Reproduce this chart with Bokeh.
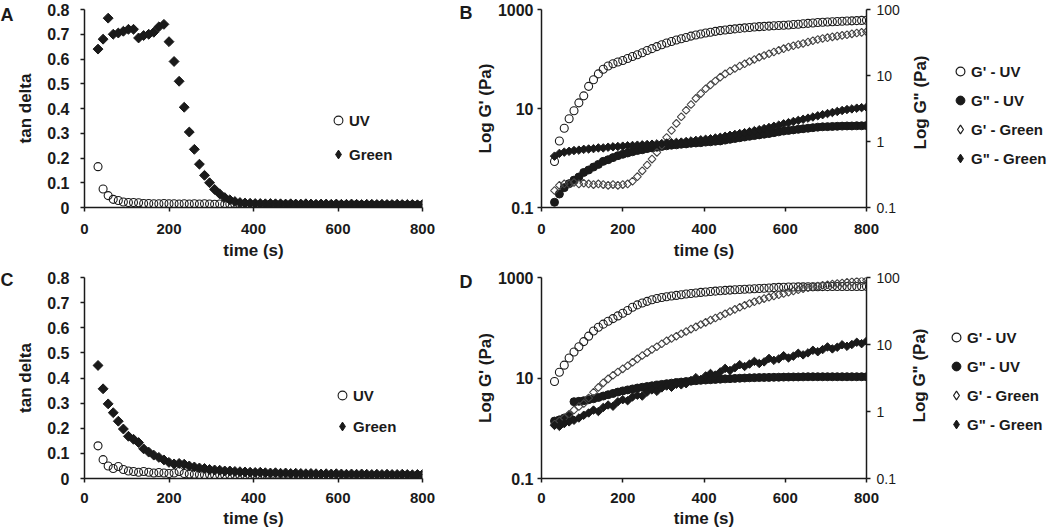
import math
from bokeh.plotting import figure
from bokeh.layouts import column, row
from bokeh.models import (Range1d, LogScale, LogAxis, FixedTicker, CustomJSTickFormatter,
                          Legend, LegendItem, Label)
from bokeh.embed import file_html
from bokeh.resources import INLINE

# ---------------- data ----------------
TIME = [32, 44, 56, 68, 80, 92, 104, 116, 128, 140,
        152, 164, 176, 188, 200, 212, 224, 236, 248, 260,
        272, 284, 296, 308, 320, 332, 344, 356, 368, 380,
        392, 404, 416, 428, 440, 452, 464, 476, 488, 500,
        512, 524, 536, 548, 560, 572, 584, 596, 608, 620,
        632, 644, 656, 668, 680, 692, 704, 716, 728, 740,
        752, 764, 776, 788, 800]

# Panel A: tan delta
A_UV = [0.165, 0.075, 0.048, 0.033, 0.028, 0.022, 0.020, 0.020, 0.019, 0.016,
        0.016, 0.015, 0.015, 0.016, 0.015, 0.015, 0.014, 0.015, 0.014, 0.015,
        0.014, 0.015, 0.014, 0.013, 0.014, 0.013, 0.013, 0.012, 0.013, 0.012,
        0.012, 0.012, 0.011, 0.012, 0.011, 0.012, 0.011, 0.011, 0.012, 0.011,
        0.010, 0.011, 0.011, 0.010, 0.011, 0.010, 0.010, 0.011, 0.010, 0.010,
        0.010, 0.011, 0.010, 0.009, 0.010, 0.010, 0.009, 0.010, 0.010, 0.009,
        0.010, 0.009, 0.010, 0.009, 0.010]
A_GREEN = [0.640, 0.680, 0.765, 0.700, 0.705, 0.712, 0.720, 0.720, 0.685, 0.695,
           0.700, 0.708, 0.730, 0.740, 0.670, 0.590, 0.510, 0.405, 0.305, 0.235,
           0.175, 0.130, 0.100, 0.073, 0.055, 0.040, 0.031, 0.024, 0.020, 0.018,
           0.017, 0.016, 0.016, 0.015, 0.016, 0.015, 0.015, 0.014, 0.015, 0.014,
           0.014, 0.015, 0.014, 0.013, 0.014, 0.014, 0.013, 0.014, 0.013, 0.013,
           0.014, 0.013, 0.012, 0.013, 0.013, 0.012, 0.013, 0.012, 0.012, 0.013,
           0.012, 0.012, 0.012, 0.011, 0.012]

# Panel C: tan delta
C_UV = [0.130, 0.075, 0.050, 0.040, 0.048, 0.036, 0.030, 0.028, 0.025, 0.028,
        0.025, 0.022, 0.024, 0.022, 0.020, 0.022, 0.028, 0.020, 0.018, 0.017,
        0.016, 0.015, 0.016, 0.014, 0.015, 0.014, 0.013, 0.014, 0.013, 0.012,
        0.013, 0.012, 0.012, 0.011, 0.012, 0.012, 0.011, 0.012, 0.011, 0.011,
        0.012, 0.011, 0.011, 0.012, 0.011, 0.011, 0.010, 0.011, 0.011, 0.010,
        0.011, 0.010, 0.011, 0.010, 0.010, 0.011, 0.010, 0.010, 0.011, 0.010,
        0.010, 0.011, 0.010, 0.010, 0.011]
C_GREEN = [0.450, 0.357, 0.297, 0.262, 0.228, 0.197, 0.168, 0.156, 0.143, 0.118,
           0.105, 0.093, 0.084, 0.074, 0.064, 0.058, 0.060, 0.057, 0.050, 0.046,
           0.042, 0.040, 0.036, 0.034, 0.033, 0.030, 0.030, 0.028, 0.027, 0.026,
           0.025, 0.024, 0.025, 0.023, 0.022, 0.023, 0.021, 0.022, 0.020, 0.021,
           0.020, 0.019, 0.020, 0.019, 0.018, 0.019, 0.018, 0.019, 0.018, 0.017,
           0.018, 0.017, 0.018, 0.017, 0.016, 0.017, 0.016, 0.017, 0.016, 0.016,
           0.017, 0.016, 0.015, 0.016, 0.016]

# Panel B: moduli (G' left axis, G" right axis)
B_GP_UV = [0.85, 2.2, 4.0, 6.2, 9.0, 13, 18, 28, 38, 50,
           62, 72, 80, 87, 93, 102, 112, 122, 134, 148,
           162, 178, 194, 210, 226, 242, 257, 272, 290, 305,
           320, 334, 348, 362, 375, 386, 396, 406, 415, 425,
           434, 442, 450, 456, 462, 468, 474, 480, 487, 496,
           505, 515, 525, 535, 545, 553, 560, 566, 572, 578,
           584, 590, 596, 602, 608]
B_GPP_UV = [0.12, 0.16, 0.20, 0.23, 0.26, 0.29, 0.34, 0.37, 0.41, 0.45,
            0.50, 0.53, 0.57, 0.61, 0.64, 0.67, 0.70, 0.73, 0.75, 0.78,
            0.80, 0.82, 0.84, 0.86, 0.88, 0.89, 0.91, 0.92, 0.94, 0.95,
            0.96, 0.98, 0.99, 1.01, 1.02, 1.05, 1.08, 1.11, 1.14, 1.17,
            1.20, 1.23, 1.26, 1.29, 1.32, 1.36, 1.40, 1.44, 1.47, 1.50,
            1.53, 1.56, 1.59, 1.62, 1.65, 1.67, 1.68, 1.69, 1.70, 1.71,
            1.72, 1.72, 1.73, 1.73, 1.74]
B_GP_GREEN = [0.22, 0.28, 0.30, 0.30, 0.32, 0.30, 0.31, 0.30, 0.29, 0.30,
              0.29, 0.28, 0.29, 0.28, 0.29, 0.30, 0.34, 0.42, 0.55, 0.72,
              0.95, 1.3, 1.8, 2.6, 3.6, 5.0, 6.8, 9.2, 12, 16,
              20, 25, 30, 36, 43, 50, 57, 64, 72, 80,
              89, 98, 108, 118, 128, 139, 150, 162, 175, 186,
              196, 206, 220, 234, 248, 260, 270, 280, 290, 300,
              310, 322, 334, 345, 356]
B_GPP_GREEN = [0.60, 0.66, 0.69, 0.71, 0.73, 0.74, 0.76, 0.77, 0.78, 0.80,
               0.80, 0.82, 0.83, 0.84, 0.85, 0.86, 0.87, 0.88, 0.89, 0.90,
               0.91, 0.92, 0.93, 0.95, 0.96, 0.97, 0.98, 1.00, 1.02, 1.04,
               1.06, 1.08, 1.10, 1.13, 1.16, 1.20, 1.24, 1.28, 1.32, 1.36,
               1.41, 1.46, 1.51, 1.57, 1.63, 1.70, 1.77, 1.85, 1.93, 2.01,
               2.09, 2.17, 2.26, 2.35, 2.45, 2.55, 2.65, 2.75, 2.85, 2.95,
               3.05, 3.12, 3.20, 3.26, 3.30]

# Panel D
D_GP_UV = [8.5, 13, 18, 25, 33, 42, 53, 68, 86, 102,
           118, 135, 152, 172, 195, 220, 255, 285, 310, 335,
           360, 382, 400, 415, 428, 440, 455, 468, 480, 492,
           505, 515, 525, 535, 545, 555, 562, 570, 578, 585,
           592, 598, 605, 612, 620, 628, 635, 640, 645, 648,
           650, 652, 654, 655, 656, 658, 658, 660, 660, 662,
           662, 663, 664, 664, 665]
D_GPP_UV = [0.72, 0.75, 0.80, 0.85, 1.40, 1.42, 1.45, 1.50, 1.55, 1.62,
            1.70, 1.78, 1.86, 1.95, 2.03, 2.10, 2.17, 2.24, 2.30, 2.36,
            2.42, 2.48, 2.54, 2.60, 2.65, 2.70, 2.75, 2.80, 2.84, 2.88,
            2.92, 2.95, 2.98, 3.01, 3.04, 3.07, 3.09, 3.12, 3.14, 3.16,
            3.18, 3.20, 3.21, 3.22, 3.23, 3.24, 3.25, 3.26, 3.27, 3.28,
            3.28, 3.29, 3.30, 3.30, 3.30, 3.30, 3.30, 3.30, 3.30, 3.30,
            3.30, 3.30, 3.30, 3.30, 3.30]
D_GP_GREEN = [1.2, 1.4, 1.6, 1.9, 2.3, 2.7, 3.1, 4.0, 5.2, 6.5,
              8.0, 9.6, 11.3, 13.2, 15.2, 17.5, 20.5, 24, 28, 32,
              37, 42, 48, 55, 61, 68, 76, 84, 94, 104,
              116, 128, 142, 156, 172, 190, 210, 232, 255, 280,
              305, 330, 355, 380, 405, 430, 455, 480, 510, 540,
              570, 600, 625, 650, 675, 700, 720, 740, 760, 780,
              800, 820, 840, 860, 880]
D_GPP_GREEN = [0.62, 0.60, 0.66, 0.70, 0.74, 0.80, 0.88, 0.95, 1.05, 1.00,
               1.15, 1.25, 1.20, 1.40, 1.50, 1.45, 1.65, 1.75, 1.70, 1.95,
               2.10, 2.00, 2.25, 2.40, 2.30, 2.55, 2.50, 2.60, 2.90, 3.20,
               3.00, 3.40, 3.70, 3.50, 3.90, 4.40, 4.10, 4.50, 5.00, 4.70,
               5.10, 5.60, 5.20, 5.50, 6.20, 5.80, 6.10, 6.80, 6.30, 6.70,
               7.40, 7.00, 7.50, 8.20, 7.80, 8.40, 9.20, 8.60, 9.10, 9.90,
               9.40, 10.0, 10.8, 10.3, 11.2]

X_TICKS = [0, 200, 400, 600, 800]
TAN_TICKS = [0, 0.1, 0.2, 0.3, 0.4, 0.5, 0.6, 0.7, 0.8]
GP_TICKS = [0.1, 10, 1000]
GPP_TICKS = [0.1, 1, 10, 100]

TAN_LABELS = ["UV", "Green"]
MOD_LABELS = ["G' - UV", 'G" - UV', "G' - Green", 'G" - Green']

# ---------------- styling helpers ----------------
FONT = "Liberation Sans"
INK = "#1a1a1a"


def style_axis(ax, bold=True, size="15px", standoff=6, title_standoff=6):
    ax.axis_line_color = INK
    ax.axis_line_width = 1.5
    ax.major_tick_line_color = INK
    ax.major_tick_line_width = 1.5
    ax.major_tick_out = 4
    ax.major_tick_in = 0
    ax.minor_tick_line_color = None
    ax.major_label_text_font = FONT
    ax.major_label_text_font_size = size
    ax.major_label_text_font_style = "bold" if bold else "normal"
    ax.major_label_text_color = INK
    ax.major_label_standoff = standoff
    ax.axis_label_text_font = FONT
    ax.axis_label_text_font_size = "17px"
    ax.axis_label_text_font_style = "bold"
    ax.axis_label_text_color = INK
    ax.axis_label_standoff = title_standoff


def bare_fig(w, h, bl, br, bt, bb, **kw):
    p = figure(width=w, height=h, output_backend="svg", toolbar_location=None,
               min_border_left=bl, min_border_right=br, min_border_top=bt,
               min_border_bottom=bb, **kw)
    p.outline_line_color = None
    p.background_fill_color = "white"
    p.border_fill_color = "white"
    return p


def make_fig(w, h, bl, br, bt, bb, xs, log=False):
    if log:
        p = bare_fig(w, h, bl, br, bt, bb, x_range=Range1d(0, 800),
                     y_axis_type="log", y_range=Range1d(0.1, 1000))
    else:
        p = bare_fig(w, h, bl, br, bt, bb, x_range=Range1d(0, 800),
                     y_range=Range1d(0, 0.8))
    p.xgrid.visible = False
    p.ygrid.visible = False
    p.xaxis.ticker = FixedTicker(ticks=X_TICKS, minor_ticks=[])
    p.xaxis.axis_label = "time (s)"
    style_axis(p.xaxis[0], standoff=xs[0], title_standoff=xs[1])
    return p


def panel_letter(p, text, y):
    # letter sits in the outer part of the left side panel
    p.add_layout(Label(x=0, y=y, x_units="screen", y_units="screen", text=text,
                       text_font=FONT, text_font_size="18px", text_font_style="bold",
                       text_color=INK, text_align="left", text_baseline="middle"), "left")


def make_legend(items, x, y, spacing):
    return Legend(items=items, location=(x, y), orientation="vertical",
                  background_fill_alpha=0, border_line_color=None,
                  label_text_font=FONT, label_text_font_size="15px",
                  label_text_font_style="bold", label_text_color=INK,
                  glyph_width=22, glyph_height=22, label_height=20,
                  label_standoff=0, spacing=spacing, padding=0, margin=0,
                  inactive_fill_alpha=0)


def tan_panel(w, h, bl, br, bt, bb, xs, uv, green, letter, letter_y, leg_xy, leg_spacing):
    p = make_fig(w, h, bl, br, bt, bb, xs)
    p.yaxis.ticker = FixedTicker(ticks=TAN_TICKS, minor_ticks=[])
    p.yaxis.formatter = CustomJSTickFormatter(code="return tick == 0 ? '0' : tick.toFixed(1);")
    p.yaxis.axis_label = "tan delta"
    style_axis(p.yaxis[0], size="16px", standoff=11, title_standoff=9)
    r_uv = p.scatter(TIME, uv, marker="circle", size=8, fill_color=None,
                     line_color=INK, line_width=1.1)
    p.scatter(TIME, green, marker="square", angle=math.pi / 4, size=7,
              fill_color=INK, line_color=INK, line_width=1)
    # hidden twin of the Green series, used only for its legend key (diamond)
    k_g = p.scatter(TIME, green, marker="diamond", fill_color=INK, line_color=INK,
                    visible=False)
    leg = make_legend([LegendItem(label=TAN_LABELS[0], renderers=[r_uv]),
                       LegendItem(label=TAN_LABELS[1], renderers=[k_g])],
                      leg_xy[0], leg_xy[1], leg_spacing)
    p.add_layout(leg)
    panel_letter(p, letter, letter_y)
    return p


def mod_panel(w, h, bl, br, bt, bb, xs, gp_uv, gpp_uv, gp_g, gpp_g, letter, letter_y):
    p = make_fig(w, h, bl, br, bt, bb, xs, log=True)
    p.yaxis.ticker = FixedTicker(ticks=GP_TICKS, minor_ticks=[])
    p.yaxis.formatter = CustomJSTickFormatter(code="return String(tick);")
    p.yaxis.axis_label = "Log G' (Pa)"
    style_axis(p.yaxis[0], size="16px", standoff=4, title_standoff=0)
    p.extra_y_ranges = {"g2": Range1d(0.1, 100)}
    p.extra_y_scales = {"g2": LogScale()}
    ax2 = LogAxis(y_range_name="g2",
                  ticker=FixedTicker(ticks=GPP_TICKS, minor_ticks=[]),
                  formatter=CustomJSTickFormatter(code="return String(tick);"))
    style_axis(ax2, bold=False, size="14px", standoff=6)
    p.add_layout(ax2, "right")
    p.scatter(TIME, gp_uv, marker="circle", size=8, fill_color=None,
              line_color=INK, line_width=1.1)
    p.scatter(TIME, gpp_uv, marker="circle", size=8, fill_color=INK,
              line_color=INK, y_range_name="g2")
    p.scatter(TIME, gp_g, marker="square", angle=math.pi / 4, size=5.5,
              fill_color=None, line_color="#444444", line_width=1.1)
    p.scatter(TIME, gpp_g, marker="square", angle=math.pi / 4, size=6,
              fill_color=INK, line_color=INK, y_range_name="g2")
    panel_letter(p, letter, letter_y)
    return p


def side_panel(w, h, bt, bb, gp_uv, gpp_uv, gp_g, gpp_g, title_xy, leg_xy, leg_spacing):
    """Right-hand strip: secondary axis title and the legend."""
    p = bare_fig(w, h, 0, 0, bt, bb, x_range=Range1d(0, 800), y_range=Range1d(0.1, 1000),
                 x_axis_location=None, y_axis_location=None)
    p.grid.visible = False
    p.add_layout(Label(x=title_xy[0], y=title_xy[1], x_units="screen", y_units="screen",
                       text='Log G" (Pa)', angle=math.pi / 2, text_font=FONT,
                       text_font_size="17px", text_font_style="bold", text_color=INK,
                       text_align="center", text_baseline="middle"))
    # hidden copies of the four series, only to supply the legend keys
    k1 = p.scatter(TIME, gp_uv, marker="circle", fill_color=None, line_color=INK,
                   line_width=1.2, visible=False)
    k2 = p.scatter(TIME, gpp_uv, marker="circle", fill_color=INK, line_color=INK,
                   visible=False)
    k3 = p.scatter(TIME, gp_g, marker="diamond", fill_color=None, line_color=INK,
                   line_width=1.2, visible=False)
    k4 = p.scatter(TIME, gpp_g, marker="diamond", fill_color=INK, line_color=INK,
                   visible=False)
    leg = make_legend([LegendItem(label=MOD_LABELS[0], renderers=[k1]),
                       LegendItem(label=MOD_LABELS[1], renderers=[k2]),
                       LegendItem(label=MOD_LABELS[2], renderers=[k3]),
                       LegendItem(label=MOD_LABELS[3], renderers=[k4])],
                      leg_xy[0], leg_xy[1], leg_spacing)
    p.add_layout(leg)
    return p


TOP_X = (12, 4)
BOT_X = (10, 3)

# top row: frames 9..207 (row height 262) ; bottom row: frames 277..478 (row height 268)
pA = tan_panel(436, 262, 83, 14, 9, 55, TOP_X, A_UV, A_GREEN, "A", 193, (243, 42), 12)
pB = mod_panel(469, 262, 105, 39, 9, 55, TOP_X, B_GP_UV, B_GPP_UV, B_GP_GREEN, B_GPP_GREEN,
               "B", 195)
sB = side_panel(144, 262, 9, 55, B_GP_UV, B_GPP_UV, B_GP_GREEN, B_GPP_GREEN,
                (15, 105), (44, 38), 7)

pC = tan_panel(436, 268, 83, 14, 15, 52, BOT_X, C_UV, C_GREEN, "C", 199, (247, 41), 9)
pD = mod_panel(469, 268, 105, 39, 15, 52, BOT_X, D_GP_UV, D_GPP_UV, D_GP_GREEN, D_GPP_GREEN,
               "D", 197)
sD = side_panel(144, 268, 15, 52, D_GP_UV, D_GPP_UV, D_GP_GREEN, D_GPP_GREEN,
                (14, 103), (40, 43), 7)

layout = column(row(pA, pB, sB), row(pC, pD, sD))

open("out.html", "w").write(file_html(layout, INLINE))
